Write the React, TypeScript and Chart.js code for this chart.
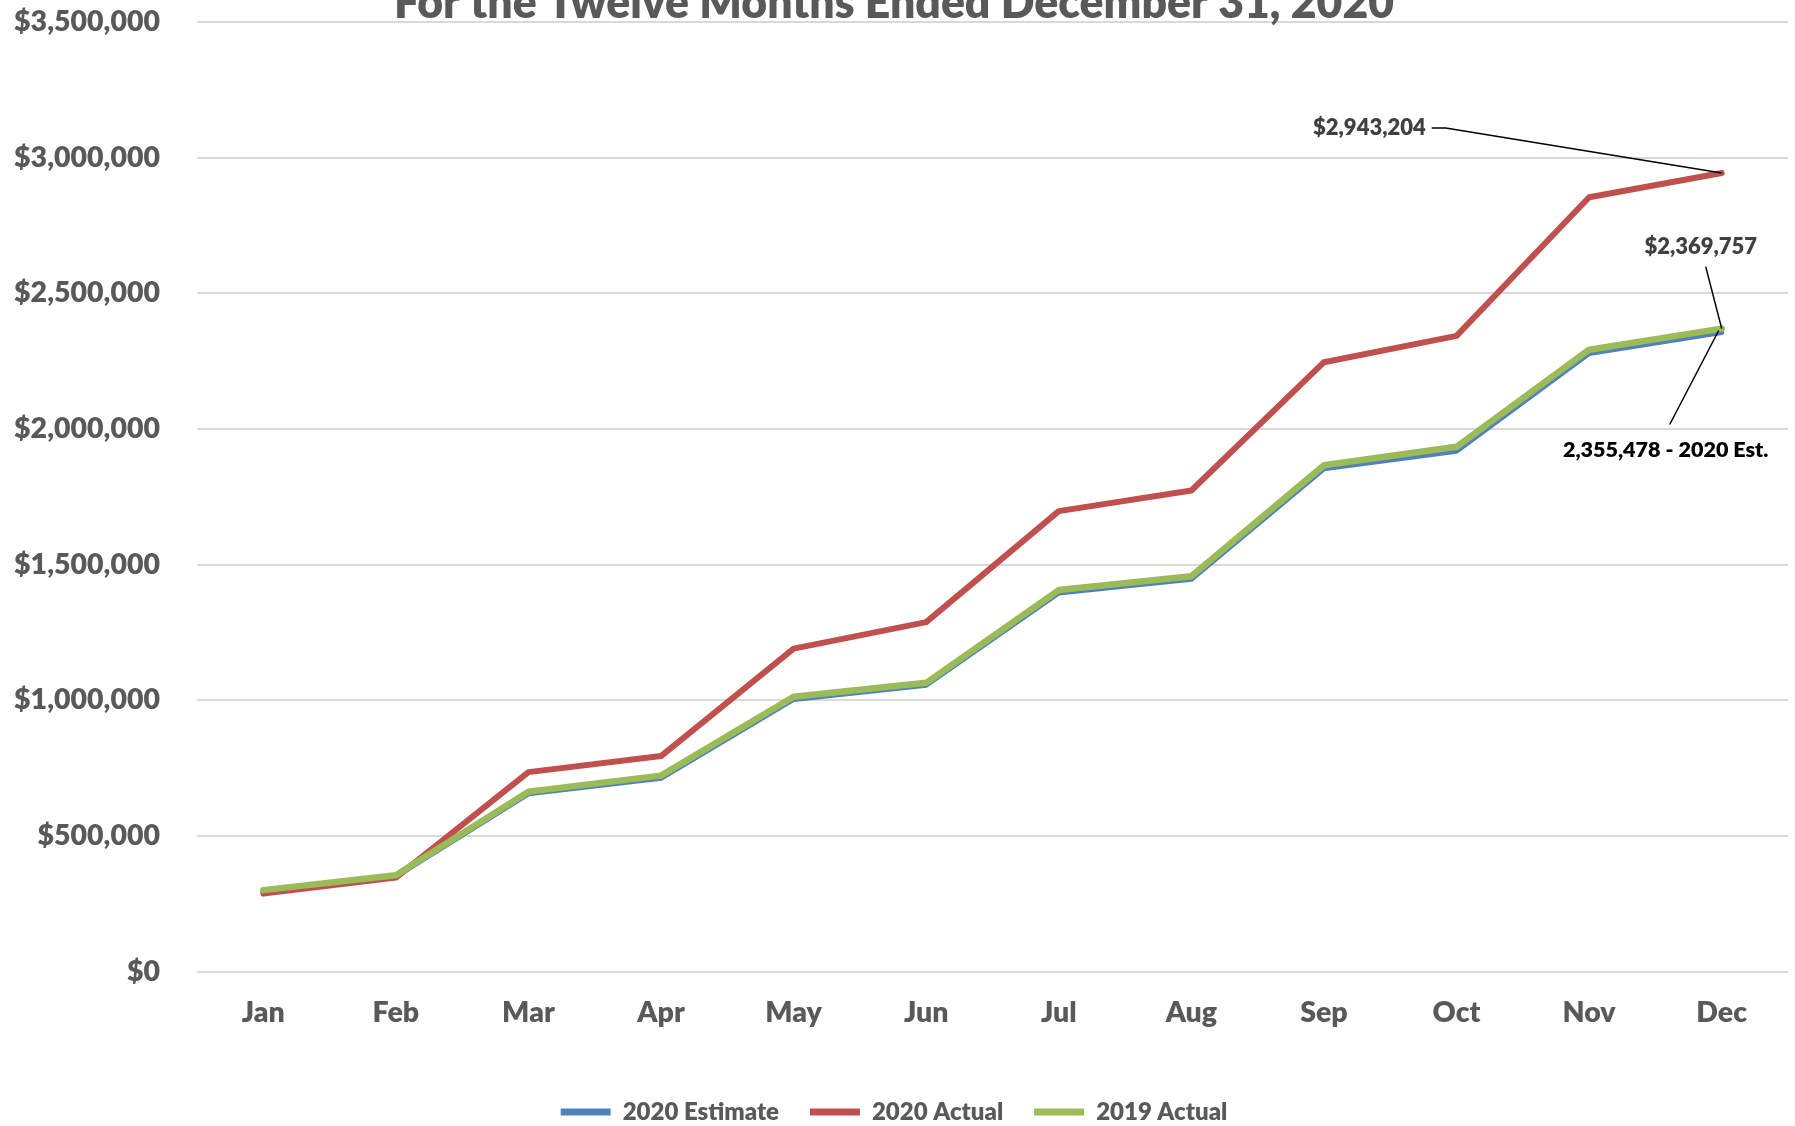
import React, { useEffect, useRef } from 'react';
import { Chart, registerables } from 'chart.js';

Chart.register(...registerables);

const months = ['Jan', 'Feb', 'Mar', 'Apr', 'May', 'Jun', 'Jul', 'Aug', 'Sep', 'Oct', 'Nov', 'Dec'];
const estimate2020 = [295000, 350000, 655000, 712000, 1003000, 1055000, 1395000, 1446000, 1853000, 1918000, 2278000, 2355478];
const actual2020 = [287000, 346000, 735000, 794000, 1190000, 1288000, 1697000, 1773000, 2246000, 2343000, 2854000, 2943204];
const actual2019 = [300000, 355000, 663000, 722000, 1013000, 1064000, 1406000, 1457000, 1866000, 1934000, 2292000, 2369757];
const seriesNames = ['2020 Estimate', '2020 Actual', '2019 Actual'];
const yMin = 0;
const yMax = 3500000;
const yStep = 500000;
const titleText = 'For the Twelve Months Ended December 31, 2020';
const labelActual2020 = '$2,943,204';
const labelActual2019 = '$2,369,757';
const labelEstimate2020 = '2,355,478 - 2020 Est.';

const COLORS = ['#4F81BD', '#C0504D', '#9BBB59'];
const FONT = 'Lato';
const WEIGHT = '800';
const TOP_OFFSET = 40;
const W = 1795;
const H = 1174;

const fmtMoney = (v: number) => '$' + Math.round(v).toLocaleString('en-US');

const endLabels = {
  id: 'endLabels',
  afterDatasetsDraw(chart: any) {
    const ctx = chart.ctx as CanvasRenderingContext2D;
    const last = (di: number) => {
      const m = chart.getDatasetMeta(di);
      const p = m.data[m.data.length - 1];
      return { x: p.x, y: p.y };
    };
    const est = last(0);
    const act = last(1);
    const old = last(2);
    ctx.save();
    ctx.strokeStyle = '#000000';
    ctx.lineWidth = 1.5;
    ctx.beginPath();
    ctx.moveTo(act.x - 290, act.y - 45);
    ctx.lineTo(act.x - 276, act.y - 45);
    ctx.lineTo(act.x, act.y);
    ctx.moveTo(old.x - 16, old.y - 62);
    ctx.lineTo(old.x, old.y);
    ctx.moveTo(est.x - 52, est.y + 92);
    ctx.lineTo(est.x - 3, est.y - 2);
    ctx.stroke();

    ctx.font = `${WEIGHT} 22px ${FONT}`;
    ctx.textBaseline = 'middle';
    ctx.fillStyle = '#404040';
    ctx.textAlign = 'right';
    ctx.fillText(labelActual2020, act.x - 296, act.y - 45);
    ctx.textAlign = 'center';
    ctx.fillText(labelActual2019, old.x - 21, old.y - 82);
    ctx.font = `${WEIGHT} 21.5px ${FONT}`;
    ctx.fillStyle = '#000000';
    ctx.fillText(labelEstimate2020, est.x - 56, est.y + 118);
    ctx.restore();
  },
};

export default function App() {
  const ref = useRef<HTMLCanvasElement | null>(null);

  useEffect(() => {
    if (!ref.current) return;
    document.body.style.margin = '0';
    document.body.style.overflow = 'hidden';
    const data = [estimate2020, actual2020, actual2019];
    const widths = [5, 6, 6.5];
    const orders = [3, 2, 1];
    const chart = new Chart(ref.current, {
      type: 'line',
      data: {
        labels: months,
        datasets: data.map((d, i) => ({
          label: seriesNames[i],
          data: d,
          borderColor: COLORS[i],
          backgroundColor: COLORS[i],
          borderWidth: widths[i],
          pointRadius: 0,
          tension: 0,
          fill: false,
          order: orders[i],
          borderCapStyle: 'round',
          borderJoinStyle: 'round',
        })),
      },
      options: {
        responsive: false,
        animation: false,
        devicePixelRatio: 1,
        layout: { padding: { left: 0, right: 7, top: 0, bottom: 0 } },
        font: { family: FONT },
        plugins: {
          tooltip: { enabled: false },
          title: {
            display: true,
            text: titleText,
            color: '#595959',
            font: { family: FONT, size: 44.5, weight: WEIGHT, lineHeight: 36 / 44.5 },
            padding: { top: 26, bottom: 0 },
          },
          legend: {
            position: 'bottom',
            labels: {
              color: '#595959',
              font: { family: FONT, size: 24, weight: WEIGHT },
              boxWidth: 50,
              boxHeight: 7,
              padding: 31,
              generateLabels: (c: any) =>
                c.data.datasets.map((ds: any, i: number) => ({
                  text: ds.label,
                  fillStyle: COLORS[i],
                  strokeStyle: COLORS[i],
                  lineWidth: 0,
                  hidden: false,
                  datasetIndex: i,
                  fontColor: '#595959',
                })),
            },
          },
        },
        scales: {
          x: {
            offset: true,
            grid: { display: false, drawTicks: false },
            border: { display: false },
            ticks: {
              color: '#595959',
              font: { family: FONT, size: 28.5, weight: WEIGHT },
              padding: 24,
              maxRotation: 0,
            },
            afterFit: (s: any) => {
              s.height = 97.5;
            },
          },
          y: {
            min: yMin,
            max: yMax,
            grid: { color: '#D9D9D9', lineWidth: 2, drawTicks: false },
            border: { display: false },
            ticks: {
              stepSize: yStep,
              color: '#595959',
              font: { family: FONT, size: 28.5, weight: WEIGHT },
              padding: 37,
              callback: (v: any) => fmtMoney(Number(v)),
            },
            afterFit: (s: any) => {
              s.width = 197;
            },
          },
        },
      } as any,
      plugins: [endLabels],
    });
    return () => chart.destroy();
  }, []);

  return (
    <div style={{ position: 'fixed', left: 0, top: -TOP_OFFSET, width: W, height: H, background: '#fff' }}>
      <canvas ref={ref} width={W} height={H} style={{ width: W, height: H, display: 'block' }} />
    </div>
  );
}
